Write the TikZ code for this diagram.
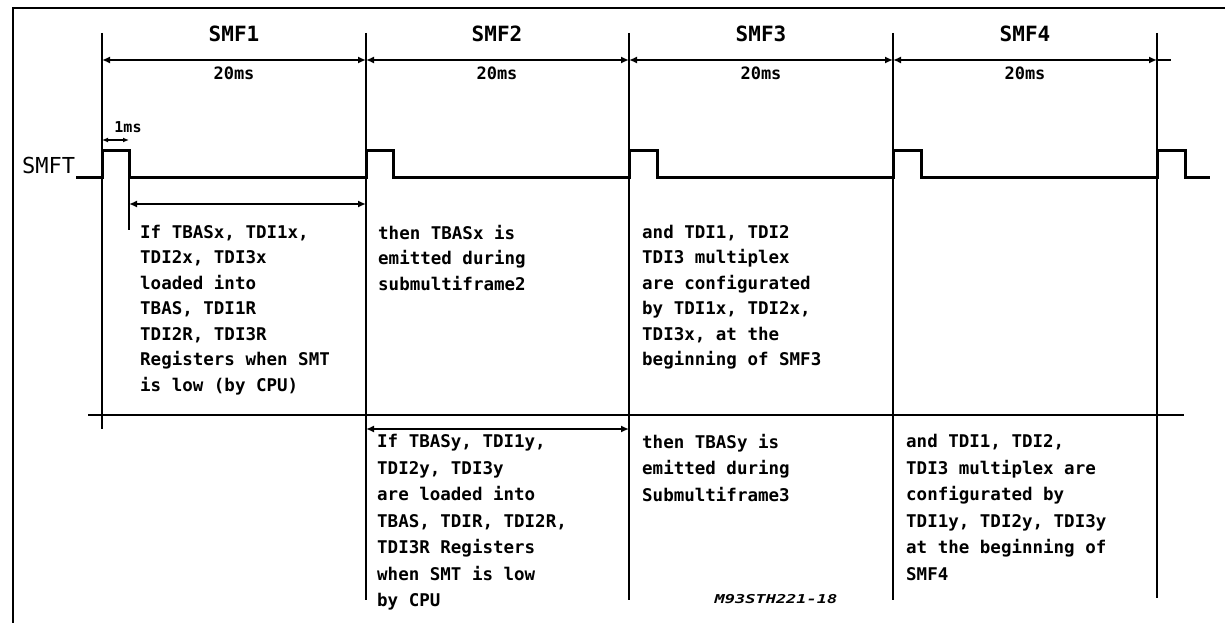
\documentclass[tikz,border=0pt]{standalone}
\usepackage{fontspec}
\setmonofont{DejaVu Sans Mono}
\usepackage{graphicx}
\usepackage{tikz}
\usetikzlibrary{arrows.meta, positioning}

\begin{document}
\begin{tikzpicture}[
  x=1pt, y=-1pt,
  bound/.style={line width=2.2pt, black},
  signal/.style={line width=3pt, black, line join=miter},
  dimarrow/.style={{Latex[length=8pt,width=7pt]}-{Latex[length=8pt,width=7pt]}, line width=2.2pt},
  smflabel/.style={font=\ttfamily\bfseries\fontsize{21}{24}\selectfont, inner sep=0pt},
  mslabel/.style={font=\ttfamily\bfseries\fontsize{17}{20}\selectfont, inner sep=0pt},
  note/.style={font=\ttfamily\bfseries\fontsize{17.5}{25.5}\selectfont, align=left, inner sep=0pt, anchor=north west},
  notelow/.style={note, font=\ttfamily\bfseries\fontsize{17.5}{26.5}\selectfont}
]
\useasboundingbox (0,0) rectangle (1225,623);
% outer frame
\draw[line width=2.4pt] (13,623) -- (13,8) -- (1225,8);

% submultiframe boundaries
\coordinate (t0) at (102,33);   \coordinate (b0) at (102,429);
\coordinate (t1) at (366,33);   \coordinate (b1) at (366,600);
\coordinate (t2) at (629,33);   \coordinate (b2) at (629,600);
\coordinate (t3) at (893,33);   \coordinate (b3) at (893,600);
\coordinate (t4) at (1157,33);  \coordinate (b4) at (1157,598);
\draw[bound] (t0) -- (b0);
\draw[bound] (t1) -- (b1);
\draw[bound] (t2) -- (b2);
\draw[bound] (t3) -- (b3);
\draw[bound] (t4) -- (b4);

% 20ms dimensions
\coordinate (d0) at (102,60);
\coordinate (d1) at (366,60);
\coordinate (d2) at (629,60);
\coordinate (d3) at (893,60);
\coordinate (d4) at (1157,60);
\coordinate (dend) at (1171,60);
\draw[dimarrow] (d0) -- (d1);
\draw[dimarrow] (d1) -- (d2);
\draw[dimarrow] (d2) -- (d3);
\draw[dimarrow] (d3) -- (d4);
\draw[bound] (d4) -- (dend);

\node[smflabel] (smf1) at (234,34) {SMF1};
\node[smflabel] (smf2) at (497,34) {SMF2};
\node[smflabel] (smf3) at (761,34) {SMF3};
\node[smflabel] (smf4) at (1025,34) {SMF4};
\node[mslabel] (ms1) at (234,73) {20ms};
\node[mslabel] (ms2) at (497,73) {20ms};
\node[mslabel] (ms3) at (761,73) {20ms};
\node[mslabel] (ms4) at (1025,73) {20ms};

% SMFT signal
\node[font=\ttfamily\fontsize{22}{24}\selectfont, inner sep=0pt, anchor=west] (smft) at (22,165) {SMFT};
\draw[signal] (76,177) -- (102,177) -- (102,150) -- (129,150) -- (129,177)
  -- (366,177) -- (366,150) -- (393,150) -- (393,177)
  -- (629,177) -- (629,150) -- (657,150) -- (657,177)
  -- (893,177) -- (893,150) -- (921,150) -- (921,177)
  -- (1157,177) -- (1157,150) -- (1185,150) -- (1185,177) -- (1210,177);

% 1ms pulse width
\coordinate (p0) at (102,140);
\coordinate (p1) at (129,140);
\draw[dimarrow, line width=1.6pt, {Latex[length=6pt,width=5pt]}-{Latex[length=6pt,width=5pt]}] (p0) -- (p1);
\node[mslabel, font=\ttfamily\bfseries\fontsize{15}{18}\selectfont] (ms0) at (128,127) {1ms};

% loading windows
\coordinate (w0) at (129,177);
\coordinate (w1) at (129,230);
\draw[bound] (w0) -- (w1);
\coordinate (a0) at (129,204);
\coordinate (a1) at (366,204);
\draw[dimarrow] (a0) -- (a1);
\coordinate (c0) at (366,429);
\coordinate (c1) at (629,429);
\draw[dimarrow] (c0) -- (c1);

% row separator
\coordinate (r0) at (88,415);
\coordinate (r1) at (1184,415);
\draw[bound] (r0) -- (r1);

% descriptions, first row
\node[note] (x1) at (140,225) {If TBASx, TDI1x,\\TDI2x, TDI3x\\loaded into\\TBAS, TDI1R\\TDI2R, TDI3R\\Registers when SMT\\is low (by CPU)};
\node[note] (x2) at (378,225) {then TBASx is\\emitted during\\submultiframe2};
\node[note] (x3) at (642,225) {and TDI1, TDI2\\TDI3 multiplex\\are configurated\\by TDI1x, TDI2x,\\TDI3x, at the\\beginning of SMF3};

% descriptions, second row
\node[notelow] (y2) at (377,434) {If TBASy, TDI1y,\\TDI2y, TDI3y\\are loaded into\\TBAS, TDIR, TDI2R,\\TDI3R Registers\\when SMT is low\\by CPU};
\node[notelow] (y3) at (642,434) {then TBASy is\\emitted during\\Submultiframe3};
\node[notelow] (y4) at (906,434) {and TDI1, TDI2,\\TDI3 multiplex are\\configurated by\\TDI1y, TDI2y, TDI3y\\at the beginning of\\SMF4};

\node[font=\ttfamily\bfseries\itshape\fontsize{17}{18}\selectfont, inner sep=0pt] (ref) at (776,599) {\scalebox{1}[0.72]{M93STH221-18}};
\end{tikzpicture}
\end{document}
